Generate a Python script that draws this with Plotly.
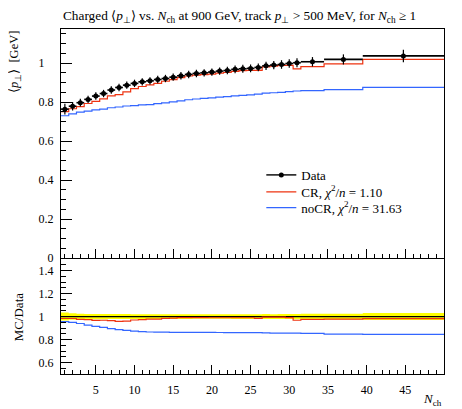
import plotly.graph_objects as go

# ---------------- data ----------------
nch = [1, 2, 3, 4, 5, 6, 7, 8, 9, 10, 11, 12, 13, 14, 15, 16, 17, 18, 19, 20,
       21, 22, 23, 24, 25, 26, 27, 28, 29, 30, 31, 33, 37, 44.75]
bin_edges = [0.5, 1.5, 2.5, 3.5, 4.5, 5.5, 6.5, 7.5, 8.5, 9.5, 10.5, 11.5, 12.5,
             13.5, 14.5, 15.5, 16.5, 17.5, 18.5, 19.5, 20.5, 21.5, 22.5, 23.5,
             24.5, 25.5, 26.5, 27.5, 28.5, 29.5, 30.5, 31.5, 34.5, 39.5, 50.0]
data_mean_pt = [0.764, 0.779, 0.797, 0.814, 0.831, 0.844, 0.862, 0.875, 0.887, 0.896,
                0.904, 0.909, 0.916, 0.921, 0.928, 0.935, 0.942, 0.947, 0.950, 0.954,
                0.959, 0.962, 0.968, 0.971, 0.973, 0.978, 0.986, 0.990, 0.993, 0.998,
                1.002, 1.007, 1.019, 1.037]
data_err = [0.027, 0.022, 0.020, 0.019, 0.019, 0.019, 0.019, 0.019, 0.019, 0.019,
            0.019, 0.019, 0.019, 0.019, 0.019, 0.019, 0.019, 0.019, 0.019, 0.019,
            0.019, 0.019, 0.020, 0.020, 0.020, 0.020, 0.021, 0.021, 0.022, 0.022,
            0.023, 0.024, 0.026, 0.032]
cr_mean_pt = [0.751, 0.766, 0.777, 0.793, 0.804, 0.817, 0.832, 0.838, 0.852, 0.869,
              0.880, 0.888, 0.896, 0.907, 0.915, 0.926, 0.934, 0.938, 0.941, 0.944,
              0.949, 0.952, 0.958, 0.961, 0.963, 0.963, 0.981, 0.985, 0.988, 0.988,
              0.970, 0.982, 0.996, 1.019]
nocr_mean_pt = [0.730, 0.740, 0.749, 0.754, 0.760, 0.764, 0.771, 0.775, 0.780, 0.782,
                0.786, 0.787, 0.792, 0.796, 0.801, 0.806, 0.812, 0.816, 0.819, 0.822,
                0.826, 0.828, 0.832, 0.835, 0.837, 0.841, 0.846, 0.848, 0.850, 0.854,
                0.857, 0.859, 0.864, 0.876]

x_tick_vals = [5, 10, 15, 20, 25, 30, 35, 40, 45]
main_y_tick_vals = [0, 0.2, 0.4, 0.6, 0.8, 1.0]
main_y_tick_text = ["0", "0.2", "0.4", "0.6", "0.8", "1\u2008\u2007"]
ratio_y_tick_vals = [0.6, 0.8, 1.0, 1.2, 1.4]
ratio_y_tick_text = ["0.6", "0.8", "1\u2008\u2007", "1.2", "1.4"]

RED = "#EE3311"
BLUE = "#3366FF"
FONT = "Liberation Serif"


def step(vals):
    return list(vals) + [vals[-1]]


err_plus = [bin_edges[i + 1] - x for i, x in enumerate(nch)]
err_minus = [x - bin_edges[i] for i, x in enumerate(nch)]

ratio_cr = [m / d for m, d in zip(cr_mean_pt, data_mean_pt)]
ratio_nocr = [m / d for m, d in zip(nocr_mean_pt, data_mean_pt)]
ratio_data = [d / d for d in data_mean_pt]
band_lo = [1 - e / d for e, d in zip(data_err, data_mean_pt)]
band_hi = [1 + e / d for e, d in zip(data_err, data_mean_pt)]

fig = go.Figure()

# ---- main panel ----
fig.add_trace(go.Scatter(x=bin_edges, y=step(nocr_mean_pt), mode="lines",
                         line=dict(color=BLUE, width=1.2, shape="hv"),
                         showlegend=False, xaxis="x", yaxis="y"))
fig.add_trace(go.Scatter(x=bin_edges, y=step(cr_mean_pt), mode="lines",
                         line=dict(color=RED, width=1.2, shape="hv"),
                         showlegend=False, xaxis="x", yaxis="y"))
fig.add_trace(go.Scatter(x=nch, y=data_mean_pt, mode="markers",
                         marker=dict(color="black", size=5, symbol="circle"),
                         error_x=dict(type="data", array=err_plus, arrayminus=err_minus,
                                      color="black", thickness=1.6, width=0),
                         error_y=dict(type="data", array=data_err,
                                      color="black", thickness=1.2, width=0),
                         showlegend=False, xaxis="x", yaxis="y"))

# legend entries (one legend box per entry for exact spacing)
fig.add_trace(go.Scatter(x=[None], y=[None], mode="lines+markers", name="Data",
                         line=dict(color="#333333", width=1.6), legend="legend",
                         marker=dict(color="black", size=5), xaxis="x", yaxis="y"))
fig.add_trace(go.Scatter(x=[None], y=[None], mode="lines", legend="legend2",
                         name="CR, <i>χ</i><sup>2</sup>/<i>n</i> = 1.10",
                         line=dict(color=RED, width=1.2), xaxis="x", yaxis="y"))
fig.add_trace(go.Scatter(x=[None], y=[None], mode="lines", legend="legend3",
                         name="noCR, <i>χ</i><sup>2</sup>/<i>n</i> = 31.63",
                         line=dict(color=BLUE, width=1.2), xaxis="x", yaxis="y"))

# ---- ratio panel ----
fig.add_trace(go.Scatter(x=bin_edges, y=step(band_lo), mode="lines",
                         line=dict(width=0, shape="hv", color="#FFFF00"),
                         showlegend=False, xaxis="x2", yaxis="y2"))
fig.add_trace(go.Scatter(x=bin_edges, y=step(band_hi), mode="lines",
                         line=dict(width=0, shape="hv", color="#FFFF00"),
                         fill="tonexty", fillcolor="#FFFF00",
                         showlegend=False, xaxis="x2", yaxis="y2"))
fig.add_trace(go.Scatter(x=bin_edges, y=step(ratio_data), mode="lines",
                         line=dict(color="black", width=1.2, shape="hv"),
                         showlegend=False, xaxis="x2", yaxis="y2"))
fig.add_trace(go.Scatter(x=bin_edges, y=step(ratio_nocr), mode="lines",
                         line=dict(color=BLUE, width=1.2, shape="hv"),
                         showlegend=False, xaxis="x2", yaxis="y2"))
fig.add_trace(go.Scatter(x=bin_edges, y=step(ratio_cr), mode="lines",
                         line=dict(color=RED, width=1.2, shape="hv"),
                         showlegend=False, xaxis="x2", yaxis="y2"))

axis_common = dict(showline=True, mirror=True, linecolor="black", linewidth=1,
                   showgrid=False, zeroline=False, ticks="inside", tickcolor="black",
                   tickfont=dict(family=FONT, size=12, color="black"))

legend_common = dict(x=0.523, xanchor="left", yanchor="middle",
                     bgcolor="rgba(0,0,0,0)", font=dict(family=FONT, size=13))

fig.update_layout(
    width=462, height=409,
    margin=dict(l=53, r=26, t=21, b=43),
    paper_bgcolor="white", plot_bgcolor="white",
    font=dict(family=FONT, size=12, color="black"),
    xaxis=dict(axis_common, domain=[0, 1], range=[0.5, 50], anchor="y",
               tickvals=x_tick_vals, ticklen=9, showticklabels=False,
               minor=dict(dtick=1, tick0=0, ticklen=4, ticks="inside", tickcolor="black")),
    yaxis=dict(axis_common, domain=[0.336, 1], range=[0, 1.175], anchor="x",
               tickvals=main_y_tick_vals, ticktext=main_y_tick_text,
               ticklen=11, ticklabelstandoff=4,
               minor=dict(dtick=0.05, tick0=0, ticklen=5, ticks="inside", tickcolor="black")),
    xaxis2=dict(axis_common, domain=[0, 1], range=[0.5, 50], anchor="y2",
                tickvals=x_tick_vals, ticklen=9, ticklabelstandoff=5,
                minor=dict(dtick=1, tick0=0, ticklen=4, ticks="inside", tickcolor="black")),
    yaxis2=dict(axis_common, domain=[0, 0.333], range=[0.5, 1.5], anchor="x2",
                tickvals=ratio_y_tick_vals, ticktext=ratio_y_tick_text,
                ticklen=11, ticklabelstandoff=4,
                minor=dict(dtick=0.05, tick0=0, ticklen=5, ticks="inside", tickcolor="black")),
    legend=dict(legend_common, y=0.577),
    legend2=dict(legend_common, y=0.528),
    legend3=dict(legend_common, y=0.482),
    showlegend=True,
)

fig.add_annotation(text="Charged ⟨<i>p</i><sub>⊥</sub>⟩ vs. <i>N</i><sub>ch</sub> at 900 GeV, "
                        "track <i>p</i><sub>⊥</sub> > 500 MeV, for <i>N</i><sub>ch</sub> ≥ 1",
                   xref="paper", yref="paper", x=0, y=1, xanchor="left", yanchor="bottom",
                   yshift=2, showarrow=False, font=dict(family=FONT, size=13.3))
fig.add_annotation(text="⟨<i>p</i><sub>⊥</sub>⟩  [GeV]", textangle=-90,
                   xref="paper", yref="paper", x=-0.12, y=1.0, xanchor="center",
                   yanchor="top", showarrow=False, font=dict(family=FONT, size=12.5))
fig.add_annotation(text="MC/Data", textangle=-90,
                   xref="paper", yref="paper", x=-0.11, y=0.1667, xanchor="center",
                   yanchor="middle", showarrow=False, font=dict(family=FONT, size=13))
fig.add_annotation(text="<i>N</i><sub>ch</sub>",
                   xref="paper", yref="paper", x=1, y=-0.074, xanchor="right",
                   yanchor="middle", showarrow=False, font=dict(family=FONT, size=13))

fig.write_html("out.html")
